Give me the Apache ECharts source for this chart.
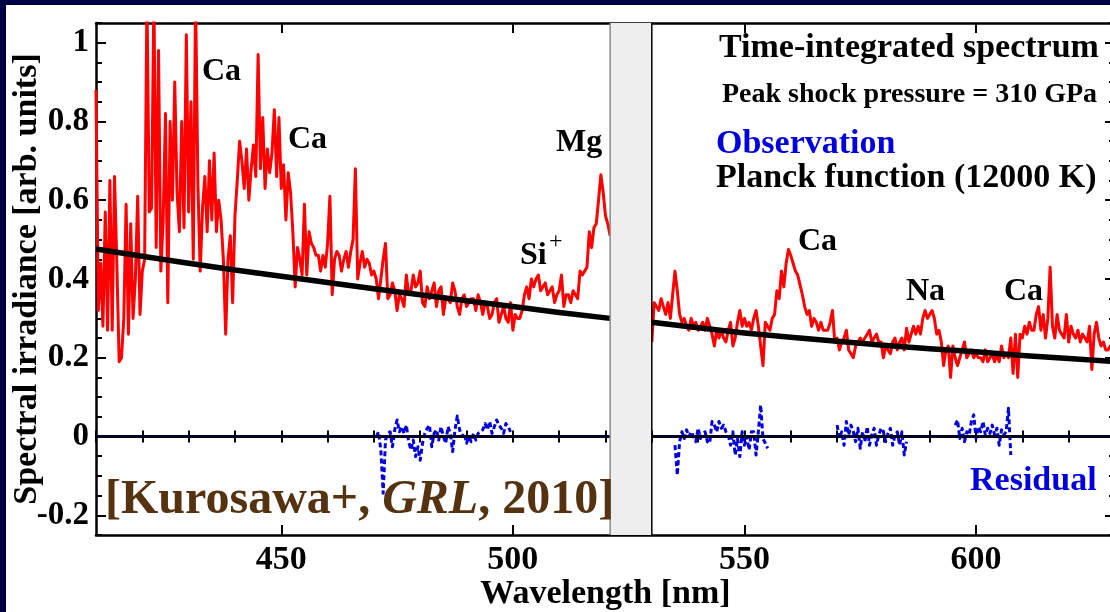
<!DOCTYPE html>
<html><head><meta charset="utf-8">
<script src="https://cdn.jsdelivr.net/npm/echarts@6/dist/echarts.min.js"></script>
<style>html,body{margin:0;padding:0;background:#fff;overflow:hidden}#chart{width:1110px;height:612px}</style>
</head><body><div id="chart"></div>
<script>
// ---------------- data ----------------
const X_MIN = 410, X_MAX = 630;
const Y_MIN = -0.25, Y_MAX = 1.05;
const xMajorTicks = [450, 500, 550, 600];
const yMajorTicks = [-0.2, 0, 0.2, 0.4, 0.6, 0.8, 1];
const gapBand = [521, 530];
const obsStep = 0.5;

const obsLeftStart = 410;
const obsLeft = [
  0.88,0.32,0.44,0.28,0.57,0.27,0.65,0.27,0.66,0.44,
  0.19,0.20,0.30,0.59,0.26,0.54,0.30,0.40,0.61,0.31,
  0.42,0.45,1.12,0.57,0.58,1.12,0.48,0.98,0.42,0.55,
  0.82,0.34,0.80,0.60,0.90,0.62,0.52,0.80,0.53,1.02,
  0.57,0.85,0.45,1.12,0.64,0.42,0.58,0.66,0.52,0.70,
  0.55,0.72,0.52,0.60,0.55,0.45,0.26,0.45,0.51,0.34,
  0.56,0.65,0.75,0.70,0.63,0.73,0.60,0.68,0.74,0.66,
  0.97,0.68,0.81,0.63,0.73,0.67,0.72,0.83,0.66,0.81,
  0.63,0.69,0.55,0.67,0.62,0.52,0.38,0.48,0.45,0.41,
  0.59,0.41,0.52,0.49,0.48,0.46,0.46,0.42,0.46,0.43,
  0.49,0.61,0.36,0.45,0.47,0.46,0.42,0.45,0.47,0.43,
  0.47,0.50,0.68,0.40,0.44,0.47,0.43,0.45,0.44,0.41,
  0.42,0.40,0.35,0.40,0.45,0.49,0.35,0.36,0.39,0.37,
  0.32,0.36,0.35,0.33,0.41,0.36,0.37,0.41,0.38,0.39,
  0.42,0.34,0.33,0.38,0.35,0.37,0.39,0.33,0.37,0.38,
  0.31,0.35,0.35,0.34,0.39,0.37,0.33,0.31,0.35,0.36,
  0.33,0.34,0.35,0.35,0.32,0.36,0.34,0.31,0.34,0.33,
  0.30,0.31,0.34,0.35,0.29,0.31,0.33,0.30,0.29,0.34,
  0.27,0.31,0.30,0.30,0.32,0.36,0.38,0.35,0.40,0.38,
  0.40,0.41,0.37,0.38,0.39,0.36,0.37,0.38,0.34,0.36,
  0.37,0.41,0.33,0.36,0.36,0.34,0.37,0.36,0.35,0.42,
  0.41,0.42,0.43,0.52,0.48,0.53,0.54,0.60,0.665,0.62,
  0.56,0.54,0.51
];

const obsRightStart = 530;
const obsRight = [
  0.24,0.34,0.33,0.32,0.35,0.33,0.31,0.34,0.30,0.36,
  0.42,0.37,0.31,0.29,0.30,0.28,0.27,0.30,0.28,0.29,
  0.27,0.28,0.29,0.27,0.30,0.28,0.26,0.23,0.27,0.25,
  0.27,0.25,0.24,0.27,0.29,0.23,0.25,0.29,0.32,0.28,
  0.30,0.28,0.29,0.27,0.30,0.32,0.28,0.23,0.18,0.29,
  0.28,0.27,0.30,0.31,0.37,0.35,0.42,0.38,0.44,0.475,
  0.46,0.44,0.42,0.41,0.385,0.36,0.33,0.31,0.32,0.28,
  0.30,0.29,0.27,0.29,0.27,0.27,0.27,0.29,0.32,0.24,
  0.25,0.22,0.24,0.25,0.27,0.22,0.21,0.20,0.23,0.24,
  0.25,0.24,0.25,0.26,0.27,0.24,0.25,0.26,0.24,0.24,
  0.20,0.23,0.22,0.21,0.24,0.25,0.22,0.24,0.25,0.22,
  0.275,0.24,0.26,0.28,0.26,0.28,0.26,0.30,0.32,0.30,
  0.31,0.32,0.30,0.26,0.27,0.24,0.18,0.22,0.23,0.15,
  0.23,0.20,0.18,0.20,0.22,0.24,0.20,0.21,0.22,0.20,
  0.21,0.20,0.20,0.19,0.22,0.19,0.20,0.21,0.19,0.21,
  0.19,0.23,0.20,0.21,0.20,0.25,0.16,0.26,0.15,0.26,
  0.25,0.28,0.26,0.29,0.27,0.27,0.31,0.33,0.27,0.31,
  0.25,0.30,0.43,0.28,0.25,0.31,0.27,0.26,0.25,0.31,
  0.24,0.28,0.26,0.25,0.27,0.24,0.26,0.25,0.24,0.28,
  0.17,0.26,0.29,0.25,0.23,0.24,0.22,0.22,0.23,0.21,
  0.22
];

const planckLeftNm  = [410, 420, 430, 440, 450, 460, 470, 480, 490, 500, 510, 521];
const planckLeftVal = [0.476,0.458,0.440,0.423,0.407,0.391,0.375,0.360,0.345,0.330,0.315,0.300];
const planckRightNm  = [530, 540, 550, 560, 570, 580, 590, 600, 610, 620, 630];
const planckRightVal = [0.290,0.276,0.263,0.252,0.242,0.232,0.223,0.215,0.206,0.198,0.190];

const resid1Start = 470.5;
const resid1 = [0.0,0.012,-0.035,-0.144,-0.009,0.008,0.012,-0.026,0.017,0.042,
  0.012,0.025,0.008,0.029,-0.013,-0.034,-0.009,-0.051,-0.026,-0.06,
  -0.017,0.008,0.021,0.029,-0.026,0.008,0.017,-0.009,0.025,0.0,
  -0.017,0.025,0.008,-0.038,0.017,0.052,0.017,0.0,0.008,-0.017,
  0.0,-0.013,0.008,-0.009,0.008,0.012,0.017,0.033,0.017,0.038,
  0.008,0.025,0.042,0.029,0.021,0.008,0.033,0.025,0.012];
const resid2Start = 535;
const resid2 = [-0.022,-0.098,-0.013,0.012,-0.005,0.017,0.0,0.012,0.0,-0.013,
  0.021,-0.005,0.008,0.012,-0.013,-0.017,0.038,0.029,0.012,0.038,
  0.021,0.029,0.012,0.004,-0.022,0.012,-0.047,-0.005,-0.051,0.012,
  -0.022,0.0,-0.034,0.012,0.012,-0.047,0.012,0.08,-0.005,-0.017,-0.03];
const resid3Start = 570;
const resid3 = [0.029,-0.005,0.012,-0.022,0.038,0.004,0.029,0.012,-0.013,0.021,
  -0.03,0.012,-0.013,0.025,-0.022,0.004,0.021,-0.022,0.004,0.021,
  0.012,-0.013,0.008,0.021,-0.022,0.004,0.012,-0.022,0.012,-0.047,-0.013];
const resid4Start = 595.5;
const resid4 = [0.029,0.042,-0.005,0.021,-0.013,0.012,0.004,0.038,0.055,-0.005,
  0.025,0.012,0.038,0.004,0.021,0.008,0.029,0.004,0.021,-0.022,
  0.017,0.004,0.012,0.072,-0.047];

const zeroLine = [[X_MIN, 0], [X_MAX, 0]];

// ---------------- helpers ----------------
const pairs = (start, step, vals) => vals.map((v, i) => [start + i * step, v]);
const zip = (xs, ys) => xs.map((x, i) => [x, ys[i]]);

const FONT = "'Liberation Serif', 'Times New Roman', serif";
const NAVY = '#000046';
const BLUE = '#0000dd';

function majorAxisX(pos, labels) {
  return {
    type: 'value', position: pos, min: X_MIN, max: X_MAX,
    axisLine: { show: true, onZero: false, lineStyle: { color: '#000', width: 2.5 } },
    axisTick: { show: true, inside: true, length: 10, customValues: xMajorTicks, lineStyle: { color: '#000', width: 2 } },
    axisLabel: labels ? { show: true, customValues: xMajorTicks, margin: 8, color: '#000', fontFamily: FONT, fontWeight: 'bold', fontSize: 34 } : { show: false },
    splitLine: { show: false }
  };
}
function minorAxisX(pos) {
  return {
    type: 'value', position: pos, min: X_MIN, max: X_MAX, interval: 10,
    axisLine: { show: false },
    axisTick: { show: true, inside: true, length: 6, lineStyle: { color: '#000', width: 2 } },
    axisLabel: { show: false }, splitLine: { show: false }
  };
}
function majorAxisY(pos, labels) {
  return {
    type: 'value', position: pos, min: Y_MIN, max: Y_MAX,
    axisLine: { show: true, onZero: false, lineStyle: { color: '#000', width: 2.5 } },
    axisTick: { show: true, inside: true, length: 10, customValues: yMajorTicks, lineStyle: { color: '#000', width: 2 } },
    axisLabel: labels ? { show: true, customValues: yMajorTicks, margin: 7, color: '#000', fontFamily: FONT, fontWeight: 'bold', fontSize: 33 } : { show: false },
    splitLine: { show: false }
  };
}
function minorAxisY(pos) {
  return {
    type: 'value', position: pos, min: Y_MIN, max: Y_MAX, interval: 0.05,
    axisLine: { show: false },
    axisTick: { show: true, inside: true, length: 6, lineStyle: { color: '#000', width: 2 } },
    axisLabel: { show: false }, splitLine: { show: false }
  };
}

const xBottom = majorAxisX('bottom', true);
Object.assign(xBottom, {
  name: 'Wavelength [nm]', nameLocation: 'middle', nameGap: 42, nameMoveOverlap: false,
  nameTextStyle: { color: '#000', fontFamily: FONT, fontWeight: 'bold', fontSize: 34 }
});
const yLeft = majorAxisY('left', true);
Object.assign(yLeft, {
  name: 'Spectral irradiance [arb. units]', nameLocation: 'middle', nameGap: 52, nameRotate: 90, nameMoveOverlap: false,
  nameTextStyle: { color: '#000', fontFamily: FONT, fontWeight: 'bold', fontSize: 34 }
});

function lineSeries(data, color, width, z, type) {
  return {
    type: 'line', data: data, xAxisIndex: 0, yAxisIndex: 0,
    symbol: 'none', showSymbol: false, silent: true, animation: false, z: z,
    lineStyle: { color: color, width: width, type: type || 'solid', join: 'round' }
  };
}

function txt(text, x, y, size, color, extra) {
  return {
    type: 'text', x: x, y: y, z: 50, silent: true,
    style: Object.assign({ text: text, fill: color || '#000', font: 'bold ' + size + 'px ' + FONT, align: 'left', verticalAlign: 'middle' }, (extra || {}))
  };
}

const option = {
  backgroundColor: '#ffffff',
  animation: false,
  grid: { left: 96, right: -5, top: 23, bottom: 77, containLabel: false, outerBoundsMode: 'none' },
  xAxis: [xBottom, minorAxisX('bottom'), majorAxisX('top', false), minorAxisX('top')],
  yAxis: [yLeft, minorAxisY('left'), majorAxisY('right', false), minorAxisY('right')],
  series: [
    lineSeries(pairs(obsLeftStart, obsStep, obsLeft), '#ff0000', 3, 2),
    lineSeries(pairs(obsRightStart, obsStep, obsRight), '#ff0000', 3, 2),
    lineSeries(pairs(resid1Start, obsStep, resid1), BLUE, 3, 2, [5, 3]),
    lineSeries(pairs(resid2Start, obsStep, resid2), BLUE, 3, 2, [5, 3]),
    lineSeries(pairs(resid3Start, obsStep, resid3), BLUE, 3, 2, [5, 3]),
    lineSeries(pairs(resid4Start, obsStep, resid4), BLUE, 3, 2, [5, 3]),
    lineSeries(zeroLine, '#000022', 3, 3),
    lineSeries(zip(planckLeftNm, planckLeftVal), '#000', 5.5, 4),
    lineSeries(zip(planckRightNm, planckRightVal), '#000', 5.5, 4),
    {
      type: 'custom', coordinateSystem: 'cartesian2d', xAxisIndex: 0, yAxisIndex: 0,
      z: 10, silent: true, animation: false,
      data: [gapBand],
      encode: { x: [0, 1] },
      renderItem: function (params, api) {
        const p0 = api.coord([api.value(0), Y_MAX]);
        const p1 = api.coord([api.value(1), Y_MIN]);
        return {
          type: 'group', children: [
            { type: 'rect', shape: { x: p0[0], y: p0[1], width: p1[0] - p0[0], height: p1[1] - p0[1] }, style: { fill: '#eeeeee' } },
            { type: 'line', shape: { x1: p0[0], y1: p0[1], x2: p0[0], y2: p1[1] }, style: { stroke: '#888888', lineWidth: 1.5 } },
            { type: 'line', shape: { x1: p1[0], y1: p0[1], x2: p1[0], y2: p1[1] }, style: { stroke: '#000000', lineWidth: 1.5 } }
          ]
        };
      }
    }
  ],
  graphic: [
    { type: 'rect', z: 60, silent: true, shape: { x: 0, y: 0, width: 6, height: 612 }, style: { fill: NAVY } },
    { type: 'rect', z: 60, silent: true, shape: { x: 0, y: 0, width: 1110, height: 5 }, style: { fill: NAVY } },
    txt('Ca', 202, 72, 32),
    txt('Ca', 288, 140, 32),
    txt('Mg', 556, 143, 32),
    txt('Si', 520, 256, 32),
    txt('+', 549, 242, 24, '#000', { font: '24px ' + FONT }),
    txt('Ca', 798, 242, 32),
    txt('Na', 906, 292, 32),
    txt('Ca', 1004, 292, 32),
    txt('Time-integrated spectrum', 719, 48, 34),
    txt('Peak shock pressure = 310 GPa', 722, 95, 28),
    txt('Observation', 716, 144, 34, BLUE),
    txt('Planck function (12000 K)', 716, 178, 34),
    txt('Residual', 970, 481, 34, BLUE),
    {
      type: 'text', x: 105, y: 501, z: 50, silent: true,
      style: {
        text: '{a|[Kurosawa+, }{b|GRL}{a|, 2010]}',
        verticalAlign: 'middle', align: 'left',
        rich: {
          a: { fontFamily: FONT, fontWeight: 'bold', fontSize: 48, fill: '#553311' },
          b: { fontFamily: FONT, fontWeight: 'bold', fontStyle: 'italic', fontSize: 48, fill: '#553311' }
        }
      }
    }
  ]
};

const chart = echarts.init(document.getElementById('chart'), null, { renderer: 'canvas' });
chart.setOption(option);
</script></body></html>
